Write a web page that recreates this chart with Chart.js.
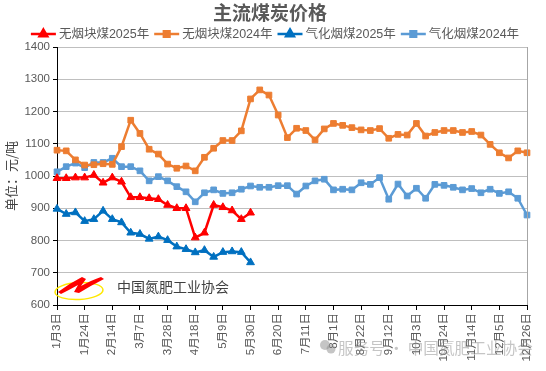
<!DOCTYPE html>
<html>
<head>
<meta charset="utf-8">
<script src="https://cdn.jsdelivr.net/npm/chart.js@4"></script>
<style>
html,body{margin:0;padding:0;background:#fff;}
#wrap{width:546px;height:371px;position:relative;}
</style>
</head>
<body>
<div id="wrap"><canvas id="c" width="546" height="371"></canvas></div>
<script>
const chartTitle = '主流煤炭价格';
const yAxisTitle = '单位：元/吨';
const categories = [
 '1月3日','1月10日','1月17日','1月24日','1月31日',
 '2月7日','2月14日','2月21日','2月28日',
 '3月7日','3月14日','3月21日','3月28日',
 '4月4日','4月11日','4月18日','4月25日',
 '5月2日','5月9日','5月16日','5月23日','5月30日',
 '6月6日','6月13日','6月20日','6月27日',
 '7月4日','7月11日','7月18日','7月25日',
 '8月1日','8月8日','8月15日','8月22日','8月29日',
 '9月5日','9月12日','9月19日','9月26日',
 '10月3日','10月10日','10月17日','10月24日','10月31日',
 '11月7日','11月14日','11月21日','11月28日',
 '12月5日','12月12日','12月19日','12月26日'
];
const seriesNames = ['无烟块煤2025年','无烟块煤2024年','气化烟煤2025年','气化烟煤2024年'];
const anthracite2025 = [993,993,995,995,1003,979,995,982,934,934,931,928,910,900,900,809,824,910,903,893,866,886];
const anthracite2024 = [1080,1078,1050,1034,1035,1038,1036,1091,1173,1132,1083,1068,1037,1024,1031,1016,1058,1086,1110,1110,1140,
 1239,1267,1251,1189,1119,1148,1141,1112,1146,1163,1157,1150,1143,1141,1147,1117,1129,1127,1163,1124,1135,1141,1141,1135,1138,1127,1098,1072,1056,1078,1072];
const gasCoal2025 = [898,882,887,860,866,892,866,856,824,820,805,812,801,781,773,763,770,749,764,766,764,732];
const gasCoal2024 = [1013,1029,1040,1026,1042,1042,1055,1029,1029,1016,985,998,985,967,951,920,948,957,946,948,959,
 969,965,965,970,970,944,969,985,990,957,959,957,979,974,995,928,975,938,962,931,974,971,965,957,961,948,959,946,951,931,879];
const yMin = 600, yMax = 1400, yStep = 100;
const tickEvery = 3;

const colors = ['#FF0000','#ED7D31','#0070C0','#5B9BD5'];
const styles = ['triangle','rect','triangle','rect'];
const seriesData = [anthracite2025, anthracite2024, gasCoal2025, gasCoal2024];

const CJK = "'Noto Sans CJK SC'";
const MIX = "'Liberation Sans','Noto Sans CJK SC'";
const textGray = '#595959';

const datasets = seriesData.map((d,i)=>({
  label: seriesNames[i],
  data: d,
  borderColor: colors[i],
  backgroundColor: colors[i],
  borderWidth: 2.5,
  pointStyle: styles[i],
  pointRadius: styles[i]==='rect' ? 4 : 4.5,
  pointBorderWidth: 1,
  pointBorderColor: colors[i],
  pointBackgroundColor: colors[i],
  tension: 0,
  fill: false
}));

const deco = {
  id: 'deco',
  beforeDraw(chart){
    const ctx = chart.ctx;
    ctx.save();
    ctx.fillStyle = '#fff';
    ctx.fillRect(0,0,chart.width,chart.height);
    ctx.restore();
  },
  afterDatasetsDraw(chart){
    const ctx = chart.ctx, a = chart.chartArea;
    ctx.save();
    // right border
    ctx.strokeStyle = '#a6a6a6'; ctx.lineWidth = 1;
    ctx.beginPath(); ctx.moveTo(Math.round(a.right)+0.5, a.top); ctx.lineTo(Math.round(a.right)+0.5, a.bottom); ctx.stroke();
    // logo
    ctx.strokeStyle = '#FFE800'; ctx.lineWidth = 1.5;
    ctx.beginPath(); ctx.ellipse(79, 291, 24, 8.5, -0.05, 0, Math.PI*2); ctx.stroke();
    ctx.fillStyle = '#FF0000';
    ctx.beginPath();
    ctx.moveTo(58, 292);
    ctx.quadraticCurveTo(70, 283, 82, 277);
    ctx.lineTo(86, 279);
    ctx.lineTo(81, 286);
    ctx.quadraticCurveTo(92, 280, 101, 277);
    ctx.lineTo(104, 279);
    ctx.quadraticCurveTo(90, 286, 79, 293);
    ctx.lineTo(74, 292);
    ctx.lineTo(78, 285);
    ctx.quadraticCurveTo(69, 290, 61, 294);
    ctx.closePath(); ctx.fill();
    ctx.fillStyle = '#404040';
    ctx.font = '14px ' + CJK; ctx.textBaseline = 'middle'; ctx.textAlign = 'left';
    ctx.fillText('中国氮肥工业协会', 117, 287);
    ctx.restore();
  },
  afterDraw(chart){
    const ctx = chart.ctx;
    ctx.save();
    // title
    ctx.fillStyle = textGray;
    ctx.font = 'bold 19px ' + CJK;
    ctx.textAlign = 'center'; ctx.textBaseline = 'middle';
    ctx.fillText(chartTitle, 270, 13);
    // legend
    ctx.font = '12.5px ' + MIX;
    const lineW = 25, gap1 = 3, gap2 = 5;
    const widths = seriesNames.map(n=>ctx.measureText(n).width);
    let total = widths.reduce((s,w)=>s+lineW+gap1+w,0) + gap2*(seriesNames.length-1);
    let x = 275 - total/2;
    const ly = 34;
    ctx.textAlign = 'left';
    seriesNames.forEach((n,i)=>{
      ctx.strokeStyle = colors[i]; ctx.lineWidth = 2.5;
      ctx.beginPath(); ctx.moveTo(x, ly); ctx.lineTo(x+lineW, ly); ctx.stroke();
      ctx.fillStyle = colors[i];
      Chart.helpers.drawPoint(ctx, {pointStyle: styles[i], radius: styles[i]==='rect'?4:4.5, borderWidth: 1, rotation: 0}, x+lineW/2, ly);
      ctx.fillStyle = textGray;
      ctx.fillText(n, x+lineW+gap1, ly+0.5);
      x += lineW + gap1 + widths[i] + gap2;
    });
    // y title
    ctx.save();
    ctx.translate(11, 176);
    ctx.rotate(-Math.PI/2);
    ctx.font = '13px ' + CJK;
    ctx.textAlign = 'center'; ctx.textBaseline = 'middle';
    ctx.fillStyle = '#404040';
    ctx.fillText(yAxisTitle, 0, 0);
    ctx.restore();
    // watermark
    ctx.globalAlpha = 0.5;
    ctx.fillStyle = '#8c8c8c';
    ctx.beginPath(); ctx.arc(325, 345, 5, 0, Math.PI*2); ctx.fill();
    ctx.beginPath(); ctx.arc(331, 349, 4.5, 0, Math.PI*2); ctx.fill();
    const wm = '服务号 · 中国氮肥工业协会';
    ctx.font = '16px ' + CJK; ctx.textAlign = 'left'; ctx.textBaseline = 'middle';
    const ww = ctx.measureText(wm).width;
    const fs = 16 * 195 / ww;
    ctx.font = fs.toFixed(2) + 'px ' + CJK;
    ctx.fillText(wm, 338, 348);
    ctx.restore();
  }
};

new Chart(document.getElementById('c'), {
  type: 'line',
  data: { labels: categories, datasets },
  options: {
    responsive: false,
    animation: false,
    devicePixelRatio: 1,
    layout: { padding: { top: 47, right: 19, left: 0, bottom: 0 } },
    plugins: { legend: { display: false }, title: { display: false }, tooltip: { enabled: false } },
    scales: {
      x: {
        type: 'category',
        offset: false,
        border: { display: true, color: '#000', width: 1 },
        grid: {
          display: true, drawOnChartArea: false, drawTicks: true, tickLength: 5,
          tickColor: (c)=> (c.index % tickEvery === 0 ? '#000' : 'rgba(0,0,0,0)')
        },
        ticks: {
          autoSkip: false, maxRotation: 90, minRotation: 90, padding: 3,
          color: textGray, font: { family: MIX, size: 11.5 },
          callback: function(v, i){ return i % tickEvery === 0 ? this.getLabelForValue(v) : ''; }
        },
        afterFit: (s)=>{ s.height = 66; }
      },
      y: {
        min: yMin, max: yMax,
        border: { display: true, color: '#000', width: 1 },
        grid: { color: '#bfbfbf', lineWidth: 1, tickLength: 4, tickColor: '#000' },
        ticks: { stepSize: yStep, color: textGray, font: { family: MIX, size: 11.5 }, padding: 3,
          callback: (v)=> String(v) },
        afterFit: (s)=>{ s.width = 57; }
      }
    }
  },
  plugins: [deco]
});
</script>
</body>
</html>
